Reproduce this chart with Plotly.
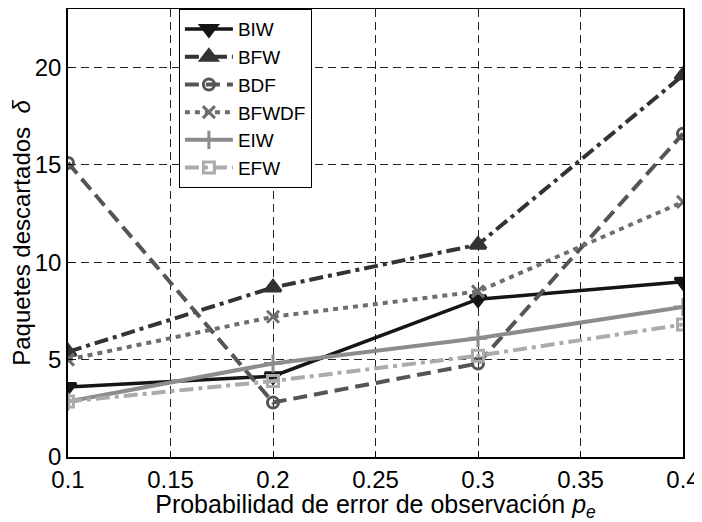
import plotly.graph_objects as go

pe = [0.1, 0.2, 0.3, 0.4]
BIW = [3.6, 4.15, 8.1, 9.0]
BFW = [5.4, 8.7, 10.9, 19.6]
BDF = [15.1, 2.8, 4.8, 16.6]
BFWDF = [5.0, 7.2, 8.5, 13.1]
EIW = [2.85, 4.8, 6.1, 7.7]
EFW = [2.85, 3.9, 5.2, 6.8]

series = [
    ("BIW", BIW, "#151515", "solid", "triangle-down", 3.5, 14),
    ("BFW", BFW, "#333333", "14px,5px,4px,5px", "triangle-up", 4, 14),
    ("BDF", BDF, "#555555", "14px,7px", "circle-open", 4, 11),
    ("BFWDF", BFWDF, "#6e6e6e", "5px,5px", "x-thin-open", 4, 12),
    ("EIW", EIW, "#8c8c8c", "solid", "cross-thin-open", 4, 13),
    ("EFW", EFW, "#ababab", "14px,5px,4px,5px", "square-open", 4, 11),
]

fig = go.Figure()
for name, ys, col, dash, sym, w, ms in series:
    fig.add_trace(go.Scatter(
        x=pe, y=ys, name=name, mode="lines+markers",
        line=dict(color=col, width=w, dash=dash),
        marker=dict(symbol=sym, size=ms, color=col,
                    line=dict(color=col, width=3)),
    ))

font = "Liberation Sans, Arial, Helvetica, sans-serif"
axis_common = dict(
    showline=True, linecolor="black", linewidth=1.5, mirror=True,
    showgrid=True, gridcolor="#222222", gridwidth=1, griddash="8px,5px",
    ticks="inside", ticklen=5, tickcolor="black", zeroline=False,
    tickfont=dict(size=24, color="black", family=font),
)

# page body has an 8px margin: offset compensated in size and margins
fig.update_layout(
    width=694, height=514,
    margin=dict(l=60, r=19, t=1, b=65, autoexpand=False),
    paper_bgcolor="white", plot_bgcolor="white",
    font=dict(family=font, color="black"),
    showlegend=True,
    legend=dict(
        x=0.18, y=1, xanchor="left", yanchor="top",
        bordercolor="black", borderwidth=1.2, bgcolor="white",
        font=dict(size=19, color="black", family=font),
        tracegroupgap=0, itemwidth=48,
    ),
    xaxis=dict(
        range=[0.1, 0.4],
        tickvals=[0.1, 0.15, 0.2, 0.25, 0.3, 0.35, 0.4],
        ticktext=["0.1", "0.15", "0.2", "0.25", "0.3", "0.35", "0.4"],
        title=dict(text="Probabilidad de error de observación <i>p</i><sub><i>e</i></sub>",
                   font=dict(size=25, color="black"), standoff=0),
        **axis_common,
    ),
    yaxis=dict(
        range=[0, 23],
        tickvals=[0, 5, 10, 15, 20],
        title=dict(text="Paquetes descartados  <i>δ</i>",
                   font=dict(size=24, color="black"), standoff=1),
        **axis_common,
    ),
)

fig.write_html("out.html")
